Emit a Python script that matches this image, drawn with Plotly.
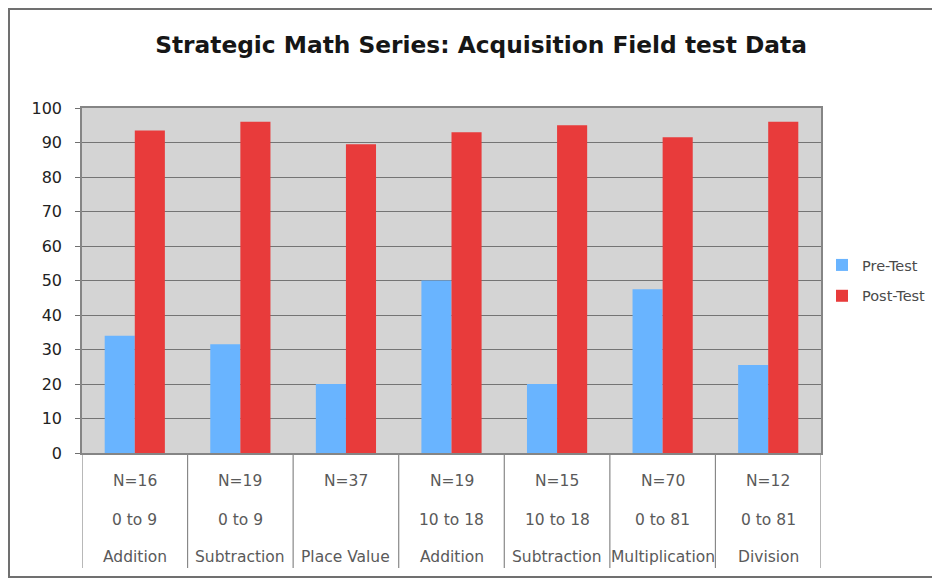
import plotly.graph_objects as go

n_labels = ["N=16", "N=19", "N=37", "N=19", "N=15", "N=70", "N=12"]
range_labels = ["0 to 9", "0 to 9", "", "10 to 18", "10 to 18", "0 to 81", "0 to 81"]
topic_labels = ["Addition", "Subtraction", "Place Value", "Addition", "Subtraction", "Multiplication", "Division"]
pre_test = [34, 31.5, 20, 50, 20, 47.5, 25.5]
post_test = [93.5, 96, 89.5, 93, 95, 91.5, 96]
y_ticks = [0, 10, 20, 30, 40, 50, 60, 70, 80, 90, 100]

categories = [f"{a}|{b}|{c}" for a, b, c in zip(n_labels, range_labels, topic_labels)]

fig = go.Figure()
fig.add_trace(go.Bar(name="Pre-Test", x=categories, y=pre_test, legendgroup="pre",
                     marker=dict(color="#69B4FF", line=dict(width=0))))
fig.add_trace(go.Bar(name="Post-Test", x=categories, y=post_test, legendgroup="post",
                     marker=dict(color="#E83B3B", line=dict(width=0))))

OFF = 8  # page body margin
W, H = 940 - 2 * OFF, 587 - 2 * OFF
L, R, T, B = 82 - OFF, 821 - OFF, 108 - OFF, 453 - OFF
pw, ph = R - L, B - T

def py(ypage):
    return (B - (ypage - OFF)) / ph

def px(xpage):
    return ((xpage - OFF) - L) / pw

annotations = []
for cat, a, b, c in zip(categories, n_labels, range_labels, topic_labels):
    for txt, ypix in ((a, 481), (b, 520), (c, 557)):
        if txt:
            annotations.append(dict(x=cat, y=py(ypix), xref="x", yref="paper", text=txt, showarrow=False,
                                    font=dict(family="DejaVu Sans", size=15.5, color="#5a5a5a"),
                                    xanchor="center", yanchor="middle"))

shapes = []
for i in range(len(categories) + 1):
    shapes.append(dict(type="line", xref="x", yref="paper", x0=i - 0.5, x1=i - 0.5, y0=0, y1=py(568),
                       line=dict(color="#888888", width=1.2)))
shapes.append(dict(type="rect", xref="paper", yref="paper", x0=px(9), x1=px(960), y0=py(577), y1=py(9),
                   line=dict(color="#707070", width=2), layer="below"))

fig.update_layout(
    width=W, height=H,
    margin=dict(l=L, r=W - R, t=T, b=H - B, autoexpand=False),
    paper_bgcolor="white", plot_bgcolor="#D4D4D4",
    barmode="group", bargap=0.43, bargroupgap=0,
    title=dict(text="<b>Strategic Math Series: Acquisition Field test Data</b>", x=px(481), xref="paper",
               xanchor="center", y=1 - (45 - OFF) / H, yanchor="middle",
               font=dict(family="DejaVu Sans", size=23.3, color="#161616")),
    font=dict(family="DejaVu Sans"),
    xaxis=dict(type="category", showticklabels=False, showgrid=False, zeroline=False, ticks="",
               showline=True, mirror=True, linecolor="#858585", linewidth=1.5,
               range=[-0.5, len(categories) - 0.5]),
    yaxis=dict(range=[0, 100], tickvals=y_ticks, ticks="outside", ticklen=5, tickcolor="#707070",
               ticklabelstandoff=10,
               showgrid=True, gridcolor="#747474", gridwidth=1.2, zeroline=False,
               showline=True, mirror=True, linecolor="#858585", linewidth=1.5,
               tickfont=dict(family="DejaVu Sans", size=16, color="#222222")),
    legend=dict(x=px(822), y=py(249), xanchor="left", yanchor="top", bgcolor="rgba(0,0,0,0)",
                font=dict(family="DejaVu Sans", size=14.5, color="#4a4a4a"),
                itemwidth=30, tracegroupgap=9),
    annotations=annotations,
    shapes=shapes,
)

fig.write_html("out.html")
